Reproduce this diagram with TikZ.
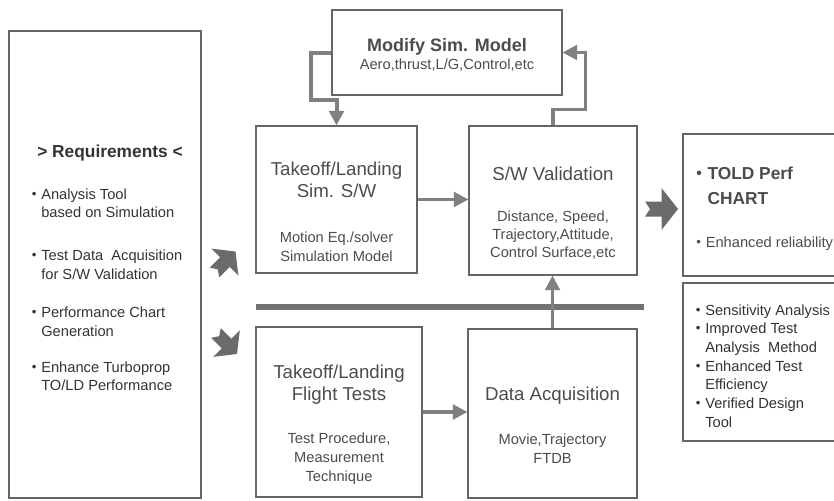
\documentclass[tikz,border=0pt]{standalone}
\usepackage{fontspec}
\setmainfont{Liberation Sans}
\usepackage{graphicx}
\usepackage{xcolor}
\usepackage{tikz}
\usetikzlibrary{positioning,arrows.meta,fit,calc}

\definecolor{inkgray}{gray}{0.3}
\definecolor{itemgray}{gray}{0.2}
\definecolor{boxgray}{gray}{0.4}
\definecolor{flowgray}{gray}{0.5}
\definecolor{fatgray}{gray}{0.42}

\newcommand{\dotmark}{\makebox[0.65em][l]{\raisebox{0.07em}{\scalebox{0.9}{\textbullet}}}}
\newcommand{\dotgap}{\hspace*{0.65em}}

\tikzset{
  box/.style={draw=boxgray, line width=0.8pt, inner sep=0pt},
  title/.style={text=inkgray, font=\fontsize{14}{16.5}\selectfont, align=center, inner sep=0pt, anchor=north},
  note/.style={text=inkgray, font=\fontsize{11}{13.75}\selectfont, align=center, inner sep=0pt, anchor=north},
  head/.style={text=itemgray, font=\bfseries\fontsize{13}{16}\selectfont, inner sep=0pt, anchor=north},
  item/.style={text=itemgray, font=\fontsize{11}{13.75}\selectfont, align=left, inner sep=0pt, anchor=north west},
  flow/.style={draw=flowgray, line width=2.6pt, -{Triangle[length=11pt,width=11pt]}},
  sep/.style={draw=gray!90!black, line width=3.8pt},
  fatarrow/.pic={
    \fill[fatgray] (-16.5,-7.5) -- (0,-7.5) -- (0,-21) -- (16.5,0) -- (0,21)
      -- (0,7.5) -- (-16.5,7.5) -- (-11.5,0) -- cycle;
  }
}

\begin{document}
\begin{tikzpicture}[x=0.75pt, y=-0.75pt, >=Latex]
\useasboundingbox (0,0) rectangle (834,500);

% Boxes
\node[box, fit={(9,31) (201,498)}] (req) {};
\node[box, fit={(332,10) (562,95)}] (modify) {};
\node[box, fit={(256,126) (417,273)}] (sim) {};
\node[box, fit={(469,126) (637,275)}] (swval) {};
\node[box, fit={(683,134) (850,276)}] (told) {};
\node[box, fit={(683,283) (850,441)}] (gain) {};
\node[box, fit={(256,327) (422,497)}] (flight) {};
\node[box, fit={(468,329) (637,498)}] (data) {};

% Requirements
\node[head] (reqhead) at (110,145) {> Requirements <};
\node[item] (req1) at (31.5,188.6) {\dotmark Analysis Tool\\\dotgap based on Simulation};
\node[item] (req2) at (31.5,250) {\dotmark Test Data\ \ Acquisition\\\dotgap for S/W Validation};
\node[item] (req3) at (31.5,307) {\dotmark Performance Chart\\\dotgap Generation};
\node[item] (req4) at (31.5,361.3) {\dotmark Enhance Turboprop\\\dotgap TO/LD Performance};

% Modify sim. model
\node[head, text=inkgray, font=\bfseries\fontsize{13.5}{16}\selectfont] (modtitle) at (447,38) {Modify Sim. Model};
\node[note] (modnote) at (447,58.3) {Aero,thrust,L/G,Control,etc};

% Simulation S/W
\node[title] (simtitle) at (336.5,162) {Takeoff/Landing\\Sim. S/W};
\node[note] (simnote) at (336.5,232) {Motion Eq./solver\\Simulation Model};

% S/W validation
\node[title] (swtitle) at (553,166.4) {S/W Validation};
\node[note] (swnote) at (553,210.3) {Distance, Speed,\\Trajectory,Attitude,\\Control Surface,etc};

% Flight tests
\node[title, font=\fontsize{14}{16}\selectfont] (fltitle) at (339,365) {Takeoff/Landing\\Flight Tests};
\node[note, font=\fontsize{11}{14.25}\selectfont] (flnote) at (339,432.3) {Test Procedure,\\Measurement\\Technique};

% Data acquisition
\node[title] (datatitle) at (552.5,386.4) {Data Acquisition};
\node[note] (datanote) at (552.5,434) {Movie,Trajectory\\FTDB};

% Results
\node[item, font=\bfseries\fontsize{13}{18.75}\selectfont, text=inkgray] (toldtext) at (696,167) {\dotmark TOLD Perf\\\dotgap CHART};
\node[item, text=inkgray] (toldnote) at (696,236.3) {\dotmark Enhanced reliability};
\node[item, font=\fontsize{11}{14}\selectfont] (gaintext) at (695.5,304.3)
  {\dotmark Sensitivity Analysis\\\dotmark Improved Test\\\dotgap Analysis\ \ Method\\\dotmark Enhanced Test\\\dotgap Efficiency\\\dotmark Verified Design\\\dotgap Tool};

% Separator
\coordinate (sepL) at (256,307);
\coordinate (sepR) at (644,307);
\draw[sep] (sepL) -- (sepR);

% Flow arrows
\draw[flow] (sim.east) -- (sim.east -| swval.west);
\draw[flow] (flight.east) -- (flight.east -| data.west);
\draw[flow] (data.north) -- (data.north |- swval.south);
\draw[flow] (swval.north) -- ++(0,-16) -| ($(modify.east)+(23,0)$) -- (modify.east);
\draw[flow, line width=3pt] (modify.west) -- ++(-20,0) |- ($(sim.north)+(0,-25)$) -- (sim.north);

% Fat arrows
\pic at (661.5,209) {fatarrow};
\pic[rotate=45, scale=0.9] at (225,262) {fatarrow};
\pic[rotate=-45, scale=0.9] at (226.5,343.5) {fatarrow};

\end{tikzpicture}
\end{document}
